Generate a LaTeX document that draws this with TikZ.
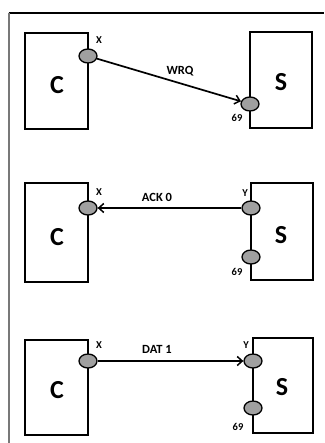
\documentclass[tikz,border=0pt]{standalone}
\usepackage{fontspec}
\setmainfont{Carlito}
\usetikzlibrary{shapes.geometric,arrows.meta}
\definecolor{portgrey}{RGB}{160,160,160}
\definecolor{framegrey}{RGB}{120,120,120}
\tikzset{
  box/.style={draw=black,line width=1.8pt,fill=white},
  port/.style={ellipse,draw=black,line width=1.3pt,fill=portgrey,minimum width=18pt,minimum height=14pt,inner sep=0pt},
  big/.style={font=\fontsize{26}{28}\selectfont\bfseries},
  lbl/.style={font=\fontsize{10.5}{12}\selectfont\bfseries,inner sep=0pt},
  msg/.style={font=\fontsize{12.5}{14}\selectfont\bfseries,inner sep=0pt},
  conn/.style={line width=1.7pt,-{Straight Barb[length=5pt,width=9pt,line width=1.5pt]}}
}
\begin{document}
\begin{tikzpicture}[x=1pt,y=-1pt]
\useasboundingbox (0,0) rectangle (324,443);
% frame
\draw[black,line width=1.2pt] (8.5,13) -- (324,13);
\draw[framegrey,line width=2pt] (9,13) -- (9,443);
% ---- panel 1
\draw[box] (25,33) rectangle (88,129);
\draw[box] (250,32) rectangle (312,128);
\node[big] (c1) at (57,85) {C};
\node[big] (s1) at (281,82) {S};
\node[port] (x1) at (88,56) {};
\node[port] (p1) at (250,104) {};
\node[lbl] (lx1) at (99,40) {X};
\node[lbl] (l691) at (237,118) {69};
\node[msg] (m1) at (180,71) {WRQ};
\draw[conn] (x1) -- (p1);
% ---- panel 2
\draw[box] (25,183) rectangle (88,282);
\draw[box] (251,183) rectangle (313,280);
\node[big] (c2) at (57,237) {C};
\node[big] (s2) at (281,235) {S};
\node[port] (x2) at (88,208) {};
\node[port] (y2) at (251,208) {};
\node[port] (p2) at (251,257) {};
\node[lbl] (lx2) at (99,192) {X};
\node[lbl] (ly2) at (245,193) {Y};
\node[lbl] (l692) at (237,272) {69};
\node[msg] (m2) at (157,197) {ACK 0};
\draw[conn] (y2) -- (x2);
% ---- panel 3
\draw[box] (25,340) rectangle (88,435);
\draw[box] (253,338) rectangle (313,433);
\node[big] (c3) at (57,390) {C};
\node[big] (s3) at (282,387) {S};
\node[port] (x3) at (88,361) {};
\node[port] (y3) at (253,361) {};
\node[port] (p3) at (253,408) {};
\node[lbl] (lx3) at (99,345) {X};
\node[lbl] (ly3) at (246,345) {Y};
\node[lbl] (l693) at (238,427) {69};
\node[msg] (m3) at (157,349) {DAT 1};
\draw[conn] (x3) -- (y3);
\end{tikzpicture}
\end{document}
